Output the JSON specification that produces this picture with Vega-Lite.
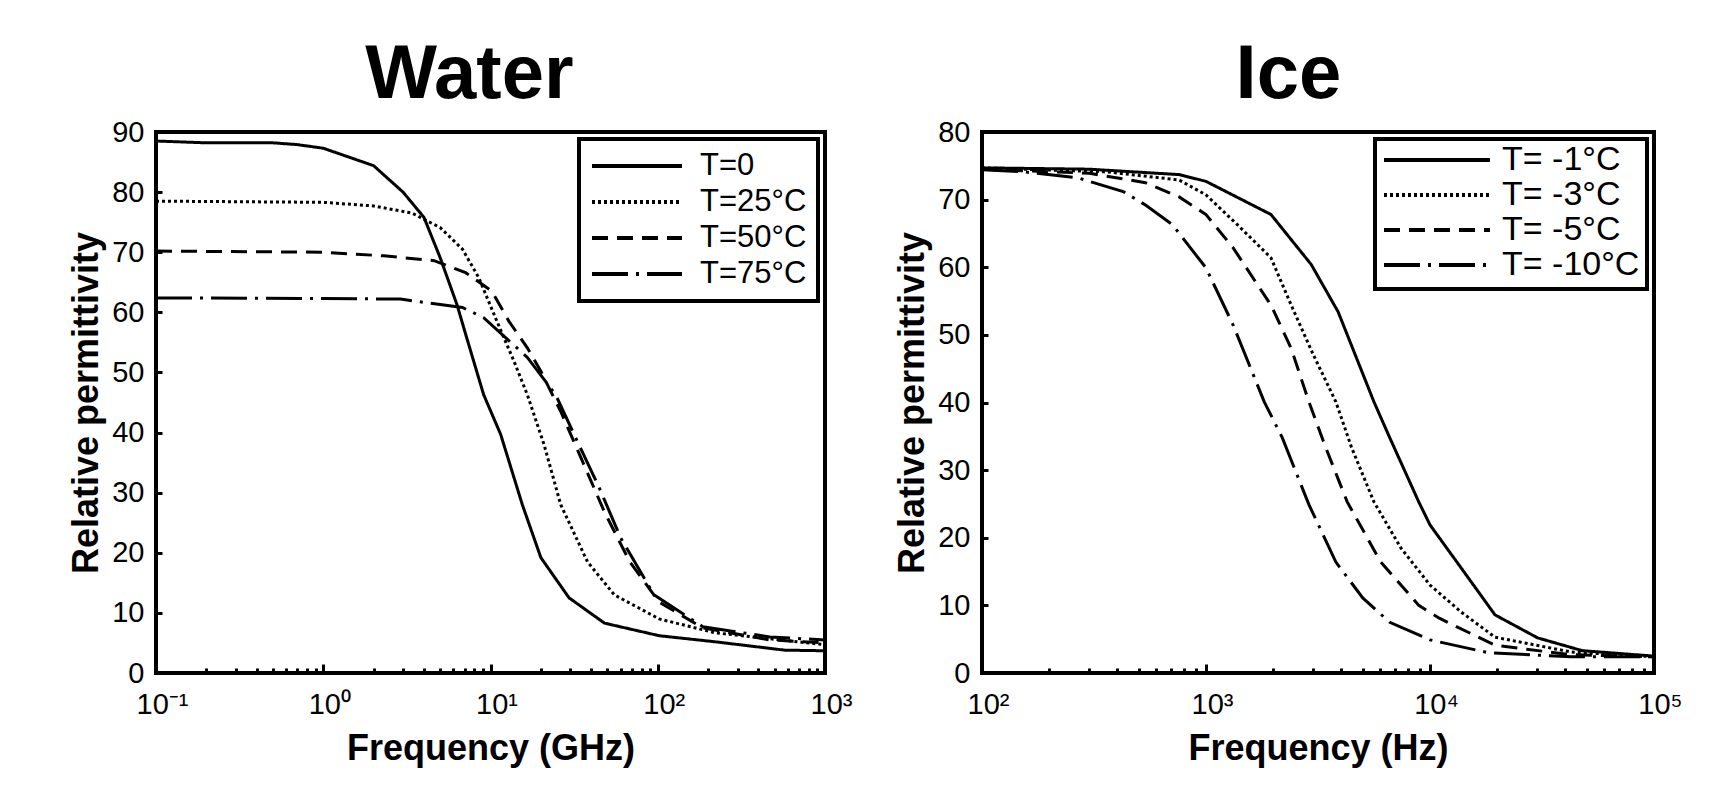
{
  "$schema": "https://vega.github.io/schema/vega-lite/v6.json",
  "background": "white",
  "padding": {"left": 66, "top": 35, "right": 10, "bottom": 10},
  "spacing": 38,
  "resolve": {"scale": {"strokeDash": "independent"}, "legend": {"strokeDash": "independent"}},
  "datasets": {
    "water": [
      {"T": "T=0", "f": 0.1, "eps": 88.5},
      {"T": "T=0", "f": 0.2, "eps": 88.2},
      {"T": "T=0", "f": 0.5, "eps": 88.2},
      {"T": "T=0", "f": 0.7, "eps": 87.9},
      {"T": "T=0", "f": 1.0, "eps": 87.3},
      {"T": "T=0", "f": 2.0, "eps": 84.4},
      {"T": "T=0", "f": 3.0, "eps": 80.0},
      {"T": "T=0", "f": 4.0, "eps": 75.8},
      {"T": "T=0", "f": 5.0, "eps": 69.1},
      {"T": "T=0", "f": 6.3, "eps": 61.3},
      {"T": "T=0", "f": 7.2, "eps": 55.8},
      {"T": "T=0", "f": 9.1, "eps": 46.3},
      {"T": "T=0", "f": 11.5, "eps": 39.7},
      {"T": "T=0", "f": 15.5, "eps": 28.0},
      {"T": "T=0", "f": 20, "eps": 19.2},
      {"T": "T=0", "f": 29.5, "eps": 12.5},
      {"T": "T=0", "f": 48, "eps": 8.3},
      {"T": "T=0", "f": 102, "eps": 6.2},
      {"T": "T=0", "f": 219, "eps": 5.2},
      {"T": "T=0", "f": 575, "eps": 3.8},
      {"T": "T=0", "f": 1000, "eps": 3.7},
      {"T": "T=25°C", "f": 0.1, "eps": 78.5},
      {"T": "T=25°C", "f": 1.0, "eps": 78.3},
      {"T": "T=25°C", "f": 2.0, "eps": 77.7},
      {"T": "T=25°C", "f": 3.4, "eps": 76.5},
      {"T": "T=25°C", "f": 5.0, "eps": 74.1},
      {"T": "T=25°C", "f": 6.8, "eps": 70.5},
      {"T": "T=25°C", "f": 8.5, "eps": 65.8},
      {"T": "T=25°C", "f": 10.7, "eps": 59.1},
      {"T": "T=25°C", "f": 13.8, "eps": 51.9},
      {"T": "T=25°C", "f": 16.6, "eps": 46.3},
      {"T": "T=25°C", "f": 20.9, "eps": 38.0},
      {"T": "T=25°C", "f": 26.3, "eps": 28.0},
      {"T": "T=25°C", "f": 38, "eps": 18.5},
      {"T": "T=25°C", "f": 55, "eps": 13.0},
      {"T": "T=25°C", "f": 102, "eps": 9.0},
      {"T": "T=25°C", "f": 219, "eps": 6.7},
      {"T": "T=25°C", "f": 1000, "eps": 4.7},
      {"T": "T=50°C", "f": 0.1, "eps": 70.2},
      {"T": "T=50°C", "f": 1.0, "eps": 70.0},
      {"T": "T=50°C", "f": 2.3, "eps": 69.4},
      {"T": "T=50°C", "f": 4.6, "eps": 68.6},
      {"T": "T=50°C", "f": 7.1, "eps": 66.6},
      {"T": "T=50°C", "f": 10.2, "eps": 63.5},
      {"T": "T=50°C", "f": 12.9, "eps": 58.5},
      {"T": "T=50°C", "f": 16.6, "eps": 54.1},
      {"T": "T=50°C", "f": 20, "eps": 50.2},
      {"T": "T=50°C", "f": 26.3, "eps": 43.5},
      {"T": "T=50°C", "f": 35.5, "eps": 35.2},
      {"T": "T=50°C", "f": 48, "eps": 26.8},
      {"T": "T=50°C", "f": 68, "eps": 18.5},
      {"T": "T=50°C", "f": 102, "eps": 11.8},
      {"T": "T=50°C", "f": 186, "eps": 7.5},
      {"T": "T=50°C", "f": 468, "eps": 5.5},
      {"T": "T=50°C", "f": 1000, "eps": 5.0},
      {"T": "T=75°C", "f": 0.1, "eps": 62.4},
      {"T": "T=75°C", "f": 1.0, "eps": 62.3},
      {"T": "T=75°C", "f": 2.9, "eps": 62.2},
      {"T": "T=75°C", "f": 5.0, "eps": 61.3},
      {"T": "T=75°C", "f": 6.8, "eps": 60.8},
      {"T": "T=75°C", "f": 9.1, "eps": 59.1},
      {"T": "T=75°C", "f": 12.3, "eps": 55.8},
      {"T": "T=75°C", "f": 16.6, "eps": 52.5},
      {"T": "T=75°C", "f": 24.5, "eps": 46.3},
      {"T": "T=75°C", "f": 31.6, "eps": 39.7},
      {"T": "T=75°C", "f": 44.7, "eps": 30.8},
      {"T": "T=75°C", "f": 60, "eps": 22.5},
      {"T": "T=75°C", "f": 95, "eps": 13.0},
      {"T": "T=75°C", "f": 186, "eps": 7.7},
      {"T": "T=75°C", "f": 468, "eps": 6.0},
      {"T": "T=75°C", "f": 1000, "eps": 5.5}
    ],
    "ice": [
      {"T": "T= -1°C", "f": 100, "eps": 74.7},
      {"T": "T= -1°C", "f": 302, "eps": 74.5},
      {"T": "T= -1°C", "f": 759, "eps": 73.7},
      {"T": "T= -1°C", "f": 1000, "eps": 72.7},
      {"T": "T= -1°C", "f": 1950, "eps": 67.8},
      {"T": "T= -1°C", "f": 2950, "eps": 60.4},
      {"T": "T= -1°C", "f": 3890, "eps": 53.4},
      {"T": "T= -1°C", "f": 5620, "eps": 40.1},
      {"T": "T= -1°C", "f": 6610, "eps": 34.8},
      {"T": "T= -1°C", "f": 8910, "eps": 25.3},
      {"T": "T= -1°C", "f": 10000, "eps": 21.9},
      {"T": "T= -1°C", "f": 13800, "eps": 15.5},
      {"T": "T= -1°C", "f": 19500, "eps": 8.6},
      {"T": "T= -1°C", "f": 30200, "eps": 5.2},
      {"T": "T= -1°C", "f": 47900, "eps": 3.3},
      {"T": "T= -1°C", "f": 100000, "eps": 2.5},
      {"T": "T= -3°C", "f": 100, "eps": 74.7},
      {"T": "T= -3°C", "f": 363, "eps": 74.1},
      {"T": "T= -3°C", "f": 759, "eps": 72.9},
      {"T": "T= -3°C", "f": 1000, "eps": 70.7},
      {"T": "T= -3°C", "f": 1380, "eps": 66.3},
      {"T": "T= -3°C", "f": 1950, "eps": 61.4},
      {"T": "T= -3°C", "f": 2400, "eps": 54.4},
      {"T": "T= -3°C", "f": 3020, "eps": 47.0},
      {"T": "T= -3°C", "f": 3800, "eps": 40.1},
      {"T": "T= -3°C", "f": 4470, "eps": 33.3},
      {"T": "T= -3°C", "f": 5620, "eps": 25.3},
      {"T": "T= -3°C", "f": 7410, "eps": 18.5},
      {"T": "T= -3°C", "f": 10000, "eps": 13.0},
      {"T": "T= -3°C", "f": 13800, "eps": 9.0},
      {"T": "T= -3°C", "f": 19500, "eps": 5.3},
      {"T": "T= -3°C", "f": 42700, "eps": 3.1},
      {"T": "T= -3°C", "f": 100000, "eps": 2.4},
      {"T": "T= -5°C", "f": 100, "eps": 74.5},
      {"T": "T= -5°C", "f": 302, "eps": 73.9},
      {"T": "T= -5°C", "f": 537, "eps": 72.5},
      {"T": "T= -5°C", "f": 759, "eps": 70.4},
      {"T": "T= -5°C", "f": 1000, "eps": 67.8},
      {"T": "T= -5°C", "f": 1320, "eps": 62.9},
      {"T": "T= -5°C", "f": 1950, "eps": 54.4},
      {"T": "T= -5°C", "f": 2400, "eps": 48.0},
      {"T": "T= -5°C", "f": 2880, "eps": 40.1},
      {"T": "T= -5°C", "f": 3390, "eps": 33.7},
      {"T": "T= -5°C", "f": 4270, "eps": 25.3},
      {"T": "T= -5°C", "f": 6030, "eps": 16.4},
      {"T": "T= -5°C", "f": 8910, "eps": 10.0},
      {"T": "T= -5°C", "f": 11000, "eps": 8.1},
      {"T": "T= -5°C", "f": 19500, "eps": 4.1},
      {"T": "T= -5°C", "f": 42700, "eps": 2.7},
      {"T": "T= -5°C", "f": 100000, "eps": 2.4},
      {"T": "T= -10°C", "f": 100, "eps": 74.4},
      {"T": "T= -10°C", "f": 155, "eps": 74.1},
      {"T": "T= -10°C", "f": 269, "eps": 73.2},
      {"T": "T= -10°C", "f": 427, "eps": 71.2},
      {"T": "T= -10°C", "f": 537, "eps": 69.2},
      {"T": "T= -10°C", "f": 708, "eps": 66.3},
      {"T": "T= -10°C", "f": 1000, "eps": 59.9},
      {"T": "T= -10°C", "f": 1320, "eps": 51.5},
      {"T": "T= -10°C", "f": 1820, "eps": 40.1},
      {"T": "T= -10°C", "f": 2190, "eps": 34.8},
      {"T": "T= -10°C", "f": 2880, "eps": 24.9},
      {"T": "T= -10°C", "f": 3800, "eps": 16.4},
      {"T": "T= -10°C", "f": 5010, "eps": 11.1},
      {"T": "T= -10°C", "f": 6610, "eps": 7.5},
      {"T": "T= -10°C", "f": 10000, "eps": 4.9},
      {"T": "T= -10°C", "f": 18200, "eps": 3.0},
      {"T": "T= -10°C", "f": 42700, "eps": 2.4},
      {"T": "T= -10°C", "f": 100000, "eps": 2.4}
    ]
  },
  "config": {
    "font": "Liberation Sans",
    "view": {"stroke": "black", "strokeWidth": 4},
    "axis": {
      "domain": false,
      "grid": false,
      "labelFont": "Liberation Sans",
      "labelFontSize": 29,
      "labelColor": "black",
      "titleFont": "Liberation Sans",
      "titleFontSize": 36,
      "titleFontWeight": "bold",
      "titleColor": "black",
      "tickColor": "black",
      "tickWidth": 3
    },
    "title": {
      "font": "Liberation Sans",
      "fontSize": 76,
      "fontWeight": "bold",
      "color": "black",
      "anchor": "middle",
      "frame": "bounds",
      "baseline": "alphabetic",
      "offset": 0
    },
    "legend": {
      "orient": "top-right",
      "offset": 7,
      "symbolType": "stroke",
      "symbolStrokeWidth": 4,
      "symbolStrokeColor": "black",
      "labelFont": "Liberation Sans",
      "labelColor": "black",
      "labelLimit": 400,
      "strokeColor": "black",
      "strokeWidth": 4,
      "fillColor": "white"
    }
  },
  "hconcat": [
    {
      "title": {"text": "Water", "dx": 9},
      "width": 669,
      "height": 541,
      "data": {"name": "water"},
      "mark": {"type": "line", "color": "black", "strokeWidth": 3},
      "encoding": {
        "x": {
          "field": "f",
          "type": "quantitative",
          "scale": {"type": "log", "domain": [0.1, 1000], "nice": false},
          "axis": {
            "title": "Frequency (GHz)",
            "labelFlush": false,
            "labelOverlap": false,
            "labelOffset": 6,
            "labelPadding": 26,
            "titlePadding": 8,
            "labelExpr": "abs(log(datum.value)/LN10 - round(log(datum.value)/LN10)) < 0.001 ? '10' + ['⁻¹','⁰','¹','²','³','⁴','⁵'][round(log(datum.value)/LN10) + 1] : ''",
            "tickSize": {"condition": {"test": "abs(log(datum.value)/LN10 - round(log(datum.value)/LN10)) < 0.001", "value": -9}, "value": -5}
          }
        },
        "y": {
          "field": "eps",
          "type": "quantitative",
          "scale": {"domain": [0, 90], "nice": false},
          "axis": {
            "title": "Relative permittivity",
            "values": [0, 10, 20, 30, 40, 50, 60, 70, 80, 90],
            "tickSize": -6,
            "labelPadding": 18,
            "titlePadding": 6
          }
        },
        "strokeDash": {
          "field": "T",
          "type": "nominal",
          "scale": {"domain": ["T=0", "T=25°C", "T=50°C", "T=75°C"], "range": [[1, 0], [3, 3], [16, 9], [36, 8, 3, 8]]},
          "legend": {"title": null, "orient": "top-right", "symbolSize": 8100, "labelFontSize": 31, "labelOffset": 16, "padding": 11, "clipHeight": 32, "rowPadding": 4}
        }
      }
    },
    {
      "title": {"text": "Ice"},
      "width": 672,
      "height": 541,
      "data": {"name": "ice"},
      "mark": {"type": "line", "color": "black", "strokeWidth": 3},
      "encoding": {
        "x": {
          "field": "f",
          "type": "quantitative",
          "scale": {"type": "log", "domain": [100, 100000], "nice": false},
          "axis": {
            "title": "Frequency (Hz)",
            "labelFlush": false,
            "labelOverlap": false,
            "labelOffset": 6,
            "labelPadding": 26,
            "titlePadding": 8,
            "labelExpr": "abs(log(datum.value)/LN10 - round(log(datum.value)/LN10)) < 0.001 ? '10' + ['⁰','¹','²','³','⁴','⁵'][round(log(datum.value)/LN10)] : ''",
            "tickSize": {"condition": {"test": "abs(log(datum.value)/LN10 - round(log(datum.value)/LN10)) < 0.001", "value": -9}, "value": -5}
          }
        },
        "y": {
          "field": "eps",
          "type": "quantitative",
          "scale": {"domain": [0, 80], "nice": false},
          "axis": {
            "title": "Relative permittivity",
            "values": [0, 10, 20, 30, 40, 50, 60, 70, 80],
            "tickSize": -6,
            "labelPadding": 18,
            "titlePadding": 6
          }
        },
        "strokeDash": {
          "field": "T",
          "type": "nominal",
          "scale": {"domain": ["T= -1°C", "T= -3°C", "T= -5°C", "T= -10°C"], "range": [[1, 0], [3, 3], [16, 9], [36, 8, 3, 8]]},
          "legend": {"title": null, "orient": "top-right", "symbolSize": 11236, "labelFontSize": 34, "labelOffset": 10, "padding": 7, "clipHeight": 28, "rowPadding": 1}
        }
      }
    }
  ]
}
